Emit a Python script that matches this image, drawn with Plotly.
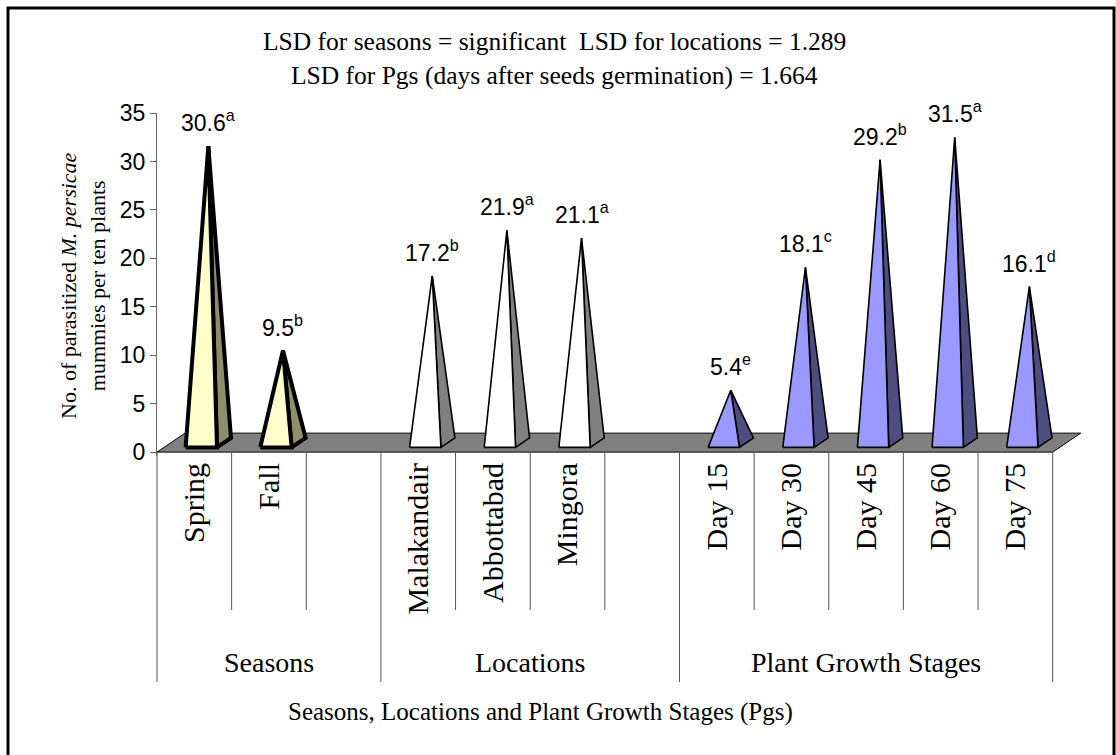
import plotly.graph_objects as go

# ---- data -------------------------------------------------------------
# category slots along the x axis; empty strings are spacer slots between groups
categories = ["Spring", "Fall", "", "Malakandair", "Abbottabad", "Mingora", "",
              "Day 15", "Day 30", "Day 45", "Day 60", "Day 75"]
groups = ["Seasons", "Locations", "Plant Growth Stages"]
group_sizes = [3, 4, 5]

season_vals = [30.6, 9.5]
season_letters = ["a", "b"]
location_vals = [17.2, 21.9, 21.1]
location_letters = ["b", "a", "a"]
stage_vals = [5.4, 18.1, 29.2, 31.5, 16.1]
stage_letters = ["e", "c", "b", "a", "d"]

y_ticks = [0, 5, 10, 15, 20, 25, 30, 35]

title_lines = ["LSD for seasons = significant  LSD for locations = 1.289",
               "LSD for Pgs (days after seeds germination) = 1.664"]
y_title = "No. of parasitized <i>M. persicae</i><br>mummies per ten plants"
x_title = "Seasons, Locations and Plant Growth Stages (Pgs)"

# ---- layout geometry --------------------------------------------------
W, H = 1116, 755
M_L, M_R, M_T, M_B = 157, 26, 113, 299
X_MAX = 12.5
Y_RANGE = [-0.4, 35]
PW = W - M_L - M_R
PH = H - M_T - M_B

# oblique depth of the 3-D floor, in data units
DX, DY = 0.375, 1.96
HALF_W = 0.21          # half width of a pyramid base
Z0, Z1 = 0.25, 0.75    # front / back depth of a pyramid base

SERIF = "Liberation Serif, Times New Roman, serif"
SANS = "Liberation Sans, Arial, sans-serif"


def px_x(px):
    return (px - M_L) / PW


def px_y(py):
    return (H - M_B - py) / PH


series = [
    dict(slots=[0, 1], vals=season_vals, letters=season_letters,
         front="#FFFFCC", side="#8E8E6C", lw=4),
    dict(slots=[3, 4, 5], vals=location_vals, letters=location_letters,
         front="#FFFFFF", side="#808080", lw=1.6),
    dict(slots=[7, 8, 9, 10, 11], vals=stage_vals, letters=stage_letters,
         front="#9999FF", side="#4D4D80", lw=1.6),
]

fig = go.Figure()

# floor of the 3-D plot
n = len(categories)
fig.add_trace(go.Scatter(
    x=[0, n, n + DX, DX, 0], y=[0, 0, DY, DY, 0],
    mode="lines", fill="toself", fillcolor="#808080",
    line=dict(color="black", width=1), hoverinfo="skip"))

annotations = []
for s in series:
    for slot, v, letter in zip(s["slots"], s["vals"], s["letters"]):
        cx = slot + 0.5
        fl = (cx - HALF_W + Z0 * DX, Z0 * DY)
        fr = (cx + HALF_W + Z0 * DX, Z0 * DY)
        br = (cx + HALF_W + Z1 * DX, Z1 * DY)
        apex = (cx + 0.5 * DX, v + 0.5 * DY)
        # right-hand (shaded) face
        fig.add_trace(go.Scatter(
            x=[fr[0], br[0], apex[0], fr[0]], y=[fr[1], br[1], apex[1], fr[1]],
            mode="lines", fill="toself", fillcolor=s["side"],
            line=dict(color="black", width=s["lw"]), hoverinfo="skip"))
        # front face
        fig.add_trace(go.Scatter(
            x=[fl[0], fr[0], apex[0], fl[0]], y=[fl[1], fr[1], apex[1], fl[1]],
            mode="lines", fill="toself", fillcolor=s["front"],
            line=dict(color="black", width=s["lw"]), hoverinfo="skip"))
        annotations.append(dict(
            x=apex[0], y=apex[1], xref="x", yref="y",
            text=f"{v}<sup>{letter}</sup>", showarrow=False,
            yanchor="bottom", yshift=8,
            font=dict(family=SANS, size=23, color="black")))

# category dividers below the floor
shapes = []
bounds = [0]
for g in group_sizes:
    bounds.append(bounds[-1] + g)
for k in range(n + 1):
    bottom = 682 if k in bounds else 610
    shapes.append(dict(type="line", xref="paper", yref="paper",
                       x0=k / X_MAX, x1=k / X_MAX, y0=px_y(452), y1=px_y(bottom),
                       line=dict(color="#555555", width=1)))

# group labels
for gi, name in enumerate(groups):
    cx = (bounds[gi] + bounds[gi + 1]) / 2
    annotations.append(dict(
        x=cx / X_MAX, y=px_y(662), xref="paper", yref="paper",
        text=name, showarrow=False, xanchor="center", yanchor="middle",
        font=dict(family=SERIF, size=28, color="black")))

# titles
for i, (line, yc) in enumerate(zip(title_lines, [42, 75])):
    annotations.append(dict(
        x=px_x(554), y=px_y(yc), xref="paper", yref="paper", text=line,
        showarrow=False, xanchor="center", yanchor="middle",
        font=dict(family=SERIF, size=25.5, color="black")))

annotations.append(dict(
    x=px_x(83), y=px_y(286), xref="paper", yref="paper", text=y_title,
    showarrow=False, textangle=-90, xanchor="center", yanchor="middle",
    font=dict(family=SERIF, size=22, color="black")))

annotations.append(dict(
    x=px_x(540), y=px_y(712), xref="paper", yref="paper", text=x_title,
    showarrow=False, xanchor="center", yanchor="middle",
    font=dict(family=SERIF, size=25, color="black")))

# outer frame
shapes.append(dict(type="rect", xref="paper", yref="paper",
                   x0=px_x(8), x1=px_x(1114), y0=px_y(8), y1=px_y(800),
                   line=dict(color="black", width=3)))

tick_slots = [i + 0.5 for i, c in enumerate(categories) if c]
tick_text = [c for c in categories if c]

fig.update_layout(
    width=W, height=H,
    margin=dict(l=M_L, r=M_R, t=M_T, b=M_B),
    paper_bgcolor="white", plot_bgcolor="rgba(0,0,0,0)",
    showlegend=False,
    annotations=annotations, shapes=shapes,
    xaxis=dict(range=[0, X_MAX], showgrid=False, zeroline=False,
               showline=False, ticks="", tickvals=tick_slots, ticktext=tick_text,
               tickangle=-90,
               tickfont=dict(family=SERIF, size=30, color="black")),
    yaxis=dict(range=Y_RANGE, showgrid=False, zeroline=False,
               showline=True, linecolor="#666666", linewidth=1,
               ticks="outside", ticklen=6, tickcolor="#666666",
               tickvals=y_ticks, tickfont=dict(family=SANS, size=23, color="black")),
)

fig.write_html("out.html")
